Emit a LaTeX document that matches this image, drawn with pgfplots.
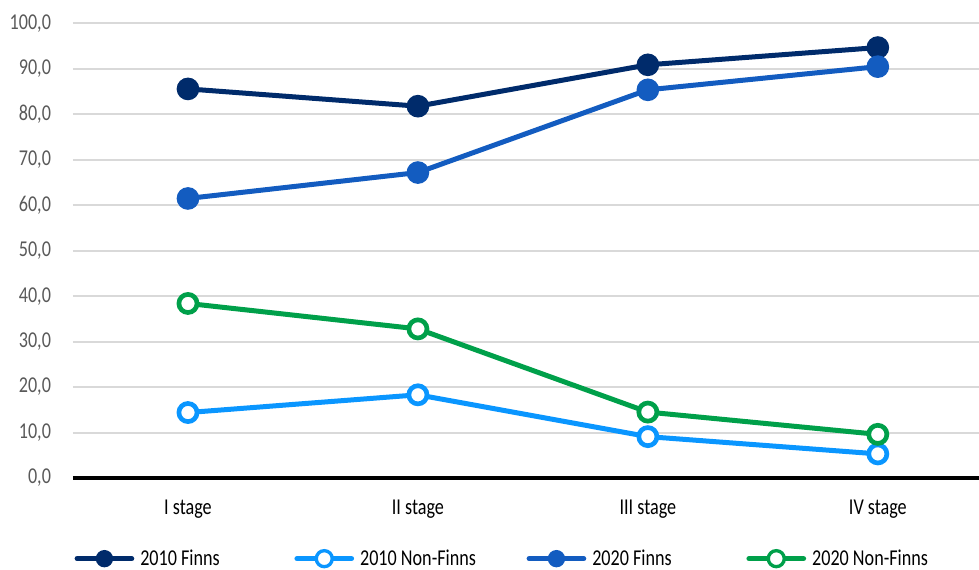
\documentclass[border=0pt]{standalone}
\usepackage{fontspec}
\setmainfont{Carlito}[FakeStretch=0.8]
\usepackage{pgfplots}
\pgfplotsset{compat=1.18}

\definecolor{finnsten}{HTML}{002B6B}
\definecolor{nonfinnsten}{HTML}{0A96FF}
\definecolor{finnstwenty}{HTML}{135CC0}
\definecolor{nonfinnstwenty}{HTML}{00A04A}
\definecolor{ticktext}{HTML}{595959}
\definecolor{gridgray}{HTML}{D9D9D9}

\pgfplotsset{
  filled/.style={line width=3.75pt, mark=*, mark size=8pt,
    mark options={line width=1pt, fill=#1, draw=#1}, color=#1},
  hollow/.style={line width=3.75pt, mark=*, mark size=6.8pt,
    mark options={line width=3.5pt, fill=white, draw=#1}, color=#1},
}

\begin{document}
\begin{tikzpicture}
\useasboundingbox (-54.75pt,-69pt) rectangle (679.5pt,358.5pt);
\begin{axis}[
  at={(0pt,0pt)}, anchor=south west,
  scale only axis,
  width=679.5pt, height=340.9pt,
  xmin=-0.5, xmax=3.44, ymin=0, ymax=100,
  axis line style={draw=none},
  tick style={draw=none},
  major tick length=0pt,
  xtick={0,1,2,3},
  xticklabels={I stage, II stage, III stage, IV stage},
  ytick={0,10,...,100},
  yticklabel={\pgfmathprintnumber[fixed,fixed zerofill,precision=1,use comma]{\tick}},
  /pgf/number format/assume math mode=true,
  ymajorgrids,
  grid style={gridgray, line width=1.5pt},
  extra y ticks={0},
  extra y tick labels={},
  extra y tick style={grid style={black, line width=3pt}},
  ticklabel style={font=\fontsize{17}{20}\selectfont, text=ticktext},
  xticklabel style={font=\fontsize{17}{20}\selectfont, text=black, yshift=-13pt},
  yticklabel style={xshift=-13pt},
  clip=false,
  legend columns=4,
  legend cell align=left,
  legend style={
    at={(rel axis cs:0,0)}, anchor=west, xshift=1pt, yshift=-60.5pt,
    draw=none, fill=none, inner sep=0pt,
    font=\fontsize{17}{20}\selectfont,
    nodes={inner sep=0pt, anchor=west},
    /tikz/every odd column/.append style={column sep=4.5pt},
  },
  legend image code/.code={
    \draw[line cap=round, mark size=6pt, mark repeat=2, mark phase=2]
      plot coordinates {(0pt,0pt) (20.5pt,0pt) (41pt,0pt)};
  },
]
\addplot[filled=finnsten] coordinates {(0,85.6) (1,81.8) (2,90.9) (3,94.7)};
\addlegendentry{2010 Finns\hspace*{56pt}}
\addplot[hollow=nonfinnsten, legend image post style={mark options={line width=2.5pt, fill=white, draw=nonfinnsten}, mark size=4.8pt}]
  coordinates {(0,14.4) (1,18.3) (2,9.1) (3,5.3)};
\addlegendentry{2010 Non-Finns\hspace*{38pt}}
\addplot[filled=finnstwenty] coordinates {(0,61.5) (1,67.2) (2,85.4) (3,90.5)};
\addlegendentry{2020 Finns\hspace*{56pt}}
\addplot[hollow=nonfinnstwenty, legend image post style={mark options={line width=2.5pt, fill=white, draw=nonfinnstwenty}, mark size=4.8pt}]
  coordinates {(0,38.4) (1,32.8) (2,14.5) (3,9.6)};
\addlegendentry{2020 Non-Finns}
\end{axis}
\end{tikzpicture}
\end{document}
